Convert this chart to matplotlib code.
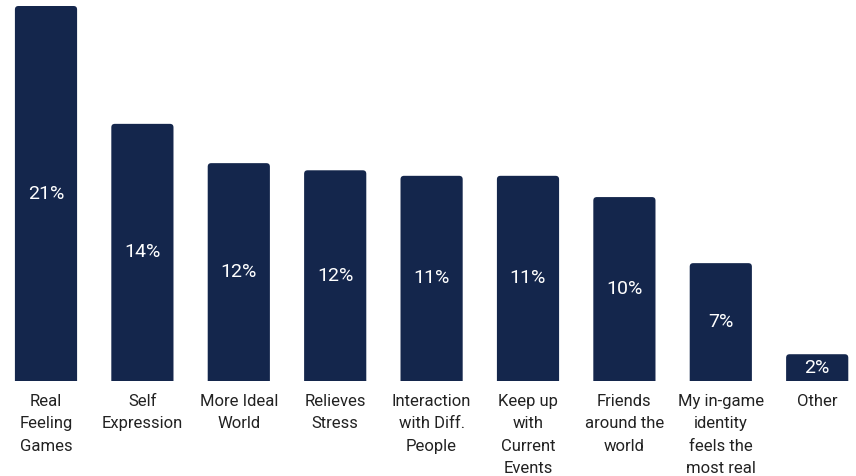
import matplotlib
matplotlib.use("Agg")
import matplotlib.pyplot as plt
from matplotlib.patches import FancyBboxPatch

plt.rcParams['font.family'] = ['Roboto', 'DejaVu Sans']

categories = [
    "Real\nFeeling\nGames",
    "Self\nExpression",
    "More Ideal\nWorld",
    "Relieves\nStress",
    "Interaction\nwith Diff.\nPeople",
    "Keep up\nwith\nCurrent\nEvents",
    "Friends\naround the\nworld",
    "My in-game\nidentity\nfeels the\nmost real",
    "Other",
]
values = [21.0, 14.4, 12.2, 11.8, 11.49, 11.49, 10.3, 6.6, 1.5]

bar_color = "#14264c"
W, H = 856, 476
fig = plt.figure(figsize=(W / 100, H / 100), dpi=100)
ax = fig.add_axes([0, 1 - 381 / H, 1, (381 - 6) / H])

x_left = (0 - 46) / 96.4
x_right = (W - 46) / 96.4
ax.set_xlim(x_left, x_right)
ax.set_ylim(0, max(values))

width = 0.645
px_x = 96.4
px_y = (381 - 6) / max(values)
r = 3.5 / px_x
aspect = (3.5 / px_y) / r

for i, v in enumerate(values):
    box = FancyBboxPatch((i - width / 2, -1), width, v + 1,
                         boxstyle=f"round,pad=0,rounding_size={r}",
                         mutation_aspect=aspect,
                         facecolor=bar_color, edgecolor="none")
    ax.add_patch(box)
    ax.text(i, v / 2, f"{v:.0f}%", ha="center", va="center",
            color="white", fontsize=14)

ax.set_xticks(range(len(categories)))
ax.set_xticklabels(categories, fontsize=12, color="#222222", linespacing=1.6,
                   va="top")
ax.tick_params(axis="x", length=0, pad=9.5)
ax.set_yticks([])
for s in ax.spines.values():
    s.set_visible(False)

fig.savefig("out.png", dpi=100)
